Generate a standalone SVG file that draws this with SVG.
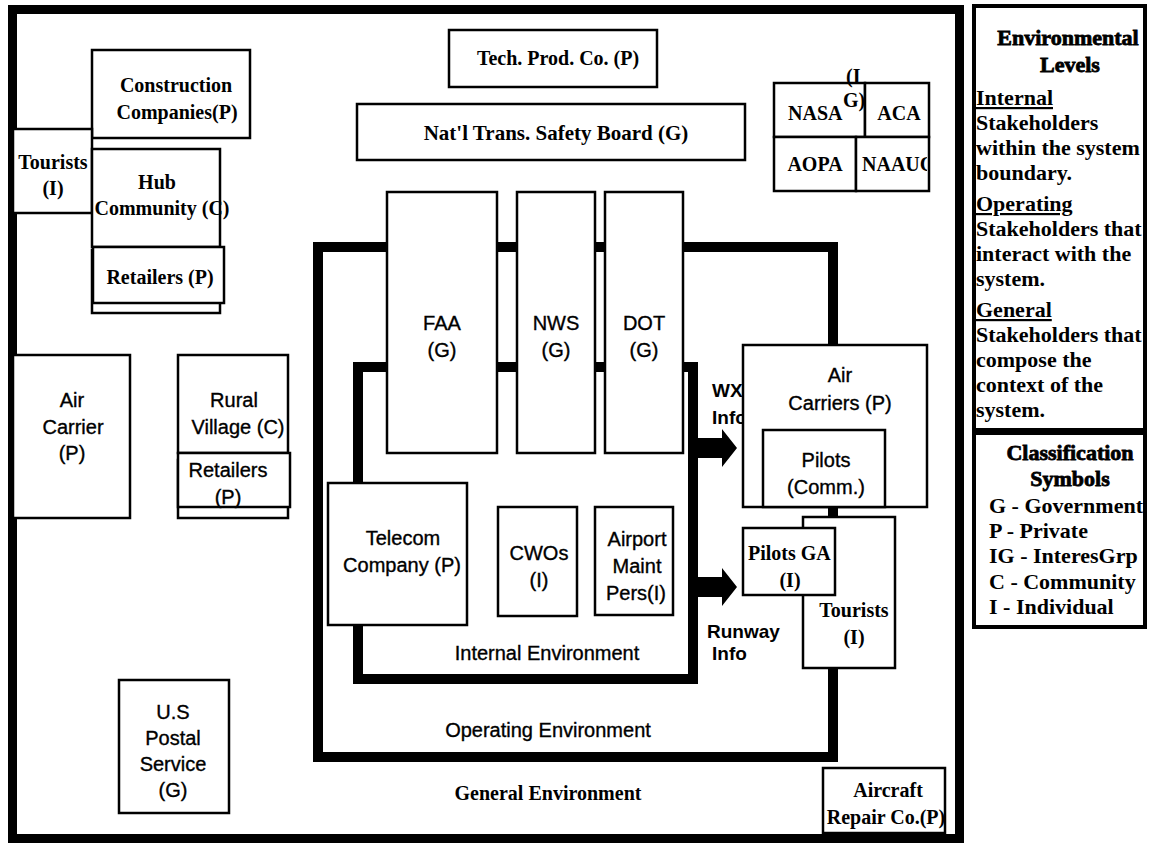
<svg xmlns="http://www.w3.org/2000/svg" width="1149" height="847" viewBox="0 0 1149 847">
<defs>
<style>
.box{fill:#fff;stroke:#000;stroke-width:2.5}
.frame{fill:none;stroke:#000;stroke-width:10}
.lgbox{fill:#fff;stroke:#000;stroke-width:4}
.tb{font-family:"Liberation Serif","Times New Roman",serif;font-weight:bold;font-size:20px;fill:#000;text-anchor:middle}
.ts{font-family:"Liberation Sans",Arial,sans-serif;font-size:20px;fill:#000;text-anchor:middle;stroke:#000;stroke-width:0.35}
.tsb{font-family:"Liberation Sans",Arial,sans-serif;font-weight:bold;font-size:19px;fill:#000}
.lg{font-family:"Liberation Serif","Times New Roman",serif;font-weight:bold;font-size:22px;fill:#000}
.lgt{font-family:"Liberation Serif","Times New Roman",serif;font-weight:bold;font-size:22px;fill:#000;text-anchor:middle;stroke:#000;stroke-width:0.8}
.arrow{fill:#000}
</style>
<clipPath id="clipNaauc"><rect x="856" y="138" width="71" height="52"/></clipPath>
</defs>
<rect x="0" y="0" width="1149" height="847" fill="#fff"/>
<rect id="general-environment-border" x="12.5" y="9.5" width="947" height="829" fill="none" stroke="#000" stroke-width="9"/>

<g id="environment-frames">
<rect id="operating-frame" class="frame" x="318" y="247" width="515" height="510"/>
<rect id="internal-frame" class="frame" x="358" y="367" width="335" height="312"/>
</g>

<g id="connectors">
<polygon id="arrow-wx" class="arrow" points="693,438 722,438 722,429 737,448 722,467 722,458 693,458"/>
<polygon id="arrow-runway" class="arrow" points="693,577 722,577 722,568 737,587 722,606 722,597 693,597"/>
</g>

<g id="connector-labels">
<text class="tsb" x="712" y="397">WX</text>
<text class="tsb" x="712" y="424">Info</text>
<text class="tsb" x="707" y="638">Runway</text>
<text class="tsb" x="712" y="660">Info</text>
</g>

<g id="construction">
<rect class="box" x="92" y="50" width="158" height="88"/>
<text class="tb" x="176" y="92">Construction</text>
<text class="tb" x="177" y="119">Companies(P)</text>
</g>

<g id="tourists-left">
<rect class="box" x="13" y="129" width="79" height="84"/>
<text class="tb" x="53" y="169">Tourists</text>
<text class="tb" x="53" y="195">(I)</text>
</g>

<g id="hub-community">
<rect class="box" x="92" y="149" width="128" height="98"/>
<text class="tb" x="157" y="189">Hub</text>
<text class="tb" x="162" y="215">Community (C)</text>
</g>

<g id="retailers-hub">
<rect class="box" x="92" y="250" width="128" height="63"/>
<rect class="box" x="93" y="247" width="131" height="56"/>
<text class="tb" x="160" y="284">Retailers (P)</text>
</g>

<g id="tech-prod">
<rect class="box" x="449" y="30" width="208" height="57"/>
<text class="tb" x="558" y="65">Tech. Prod. Co. (P)</text>
</g>

<g id="ntsb">
<rect class="box" x="357" y="104" width="388" height="56"/>
<text class="tb" x="556" y="140" style="font-size:21px">Nat'l Trans. Safety Board (G)</text>
</g>

<g id="interest-groups">
<rect class="box" x="774" y="83" width="91" height="54"/>
<rect class="box" x="865" y="83" width="64" height="54"/>
<rect class="box" x="774" y="137" width="82" height="54"/>
<rect class="box" x="856" y="137" width="73" height="54"/>
<text class="tb" x="788" y="120" style="text-anchor:start">NASA</text>
<text class="tb" x="846" y="83" style="text-anchor:start">(I</text>
<text class="tb" x="843" y="107" style="text-anchor:start">G)</text>
<text class="tb" x="899" y="120">ACA</text>
<text class="tb" x="815" y="171">AOPA</text>
<text class="tb" x="862" y="171" style="text-anchor:start" clip-path="url(#clipNaauc)">NAAUC</text>
</g>

<g id="faa">
<rect class="box" x="387" y="192" width="110" height="261"/>
<text class="ts" x="442" y="330">FAA</text>
<text class="ts" x="442" y="357">(G)</text>
</g>

<g id="nws">
<rect class="box" x="517" y="192" width="78" height="261"/>
<text class="ts" x="556" y="330">NWS</text>
<text class="ts" x="556" y="357">(G)</text>
</g>

<g id="dot">
<rect class="box" x="605" y="192" width="78" height="261"/>
<text class="ts" x="644" y="330">DOT</text>
<text class="ts" x="644" y="357">(G)</text>
</g>

<g id="telecom">
<rect class="box" x="328" y="483" width="139" height="142"/>
<text class="ts" x="403" y="545">Telecom</text>
<text class="ts" x="402" y="572">Company (P)</text>
</g>

<g id="cwos">
<rect class="box" x="498" y="507" width="79" height="109"/>
<text class="ts" x="539" y="560">CWOs</text>
<text class="ts" x="539" y="587">(I)</text>
</g>

<g id="airport-maint">
<rect class="box" x="595" y="507" width="78" height="108"/>
<text class="ts" x="637" y="546">Airport</text>
<text class="ts" x="637" y="573">Maint</text>
<text class="ts" x="636" y="600">Pers(I)</text>
</g>

<g id="internal-label">
<text class="ts" x="547" y="660">Internal Environment</text>
</g>
<g id="operating-label">
<text class="ts" x="548" y="737">Operating Environment</text>
</g>
<g id="general-label">
<text class="tb" x="548" y="800">General Environment</text>
</g>

<g id="air-carrier-left">
<rect class="box" x="13" y="355" width="117" height="163"/>
<text class="ts" x="72" y="407">Air</text>
<text class="ts" x="73" y="434">Carrier</text>
<text class="ts" x="72" y="460">(P)</text>
</g>

<g id="rural-village">
<rect class="box" x="178" y="355" width="110" height="98"/>
<text class="ts" x="234" y="407">Rural</text>
<text class="ts" x="238" y="434">Village (C)</text>
</g>

<g id="retailers-rural">
<rect class="box" x="178" y="460" width="110" height="58"/>
<rect class="box" x="178" y="453" width="112" height="54"/>
<text class="ts" x="228" y="477">Retailers</text>
<text class="ts" x="228" y="504">(P)</text>
</g>

<g id="postal">
<rect class="box" x="119" y="680" width="110" height="133"/>
<text class="ts" x="173" y="719">U.S</text>
<text class="ts" x="173" y="745">Postal</text>
<text class="ts" x="173" y="771">Service</text>
<text class="ts" x="173" y="797">(G)</text>
</g>

<g id="air-carriers">
<rect class="box" x="743" y="345" width="184" height="162"/>
<text class="ts" x="840" y="382">Air</text>
<text class="ts" x="840" y="410">Carriers (P)</text>
</g>

<g id="pilots-comm">
<rect class="box" x="763" y="430" width="122" height="77"/>
<text class="ts" x="826" y="467">Pilots</text>
<text class="ts" x="826" y="494">(Comm.)</text>
</g>

<g id="tourists-right">
<rect class="box" x="803" y="517" width="92" height="151"/>
<text class="tb" x="854" y="617">Tourists</text>
<text class="tb" x="854" y="644">(I)</text>
</g>

<g id="pilots-ga">
<rect class="box" x="743" y="528" width="92" height="67"/>
<text class="tb" x="748" y="560" style="text-anchor:start">Pilots GA</text>
<text class="tb" x="790" y="587">(I)</text>
</g>

<g id="aircraft-repair">
<rect class="box" x="823" y="768" width="122" height="65"/>
<text class="tb" x="888" y="797">Aircraft</text>
<text class="tb" x="886" y="824">Repair Co.(P)</text>
</g>

<g id="legend-levels">
<rect class="lgbox" x="974" y="6" width="171" height="424"/>
<text class="lgt" x="1068" y="45">Environmental</text>
<text class="lgt" x="1070" y="72">Levels</text>
<text class="lg" x="976" y="105" text-decoration="underline">Internal</text>
<text class="lg" x="976" y="130">Stakeholders</text>
<text class="lg" x="976" y="155">within the system</text>
<text class="lg" x="976" y="180">boundary.</text>
<text class="lg" x="976" y="211" text-decoration="underline">Operating</text>
<text class="lg" x="976" y="236">Stakeholders that</text>
<text class="lg" x="976" y="261">interact with the</text>
<text class="lg" x="976" y="286">system.</text>
<text class="lg" x="976" y="317" text-decoration="underline">General</text>
<text class="lg" x="976" y="342">Stakeholders that</text>
<text class="lg" x="976" y="367">compose the</text>
<text class="lg" x="976" y="392">context of the</text>
<text class="lg" x="976" y="417">system.</text>
</g>

<g id="legend-classification">
<rect class="lgbox" x="974" y="433" width="171" height="194"/>
<text class="lgt" x="1070" y="460">Classification</text>
<text class="lgt" x="1070" y="486">Symbols</text>
<text class="lg" x="989" y="513">G - Government</text>
<text class="lg" x="989" y="538">P - Private</text>
<text class="lg" x="989" y="563">IG - InteresGrp</text>
<text class="lg" x="989" y="589">C - Community</text>
<text class="lg" x="989" y="614">I - Individual</text>
</g>
</svg>
